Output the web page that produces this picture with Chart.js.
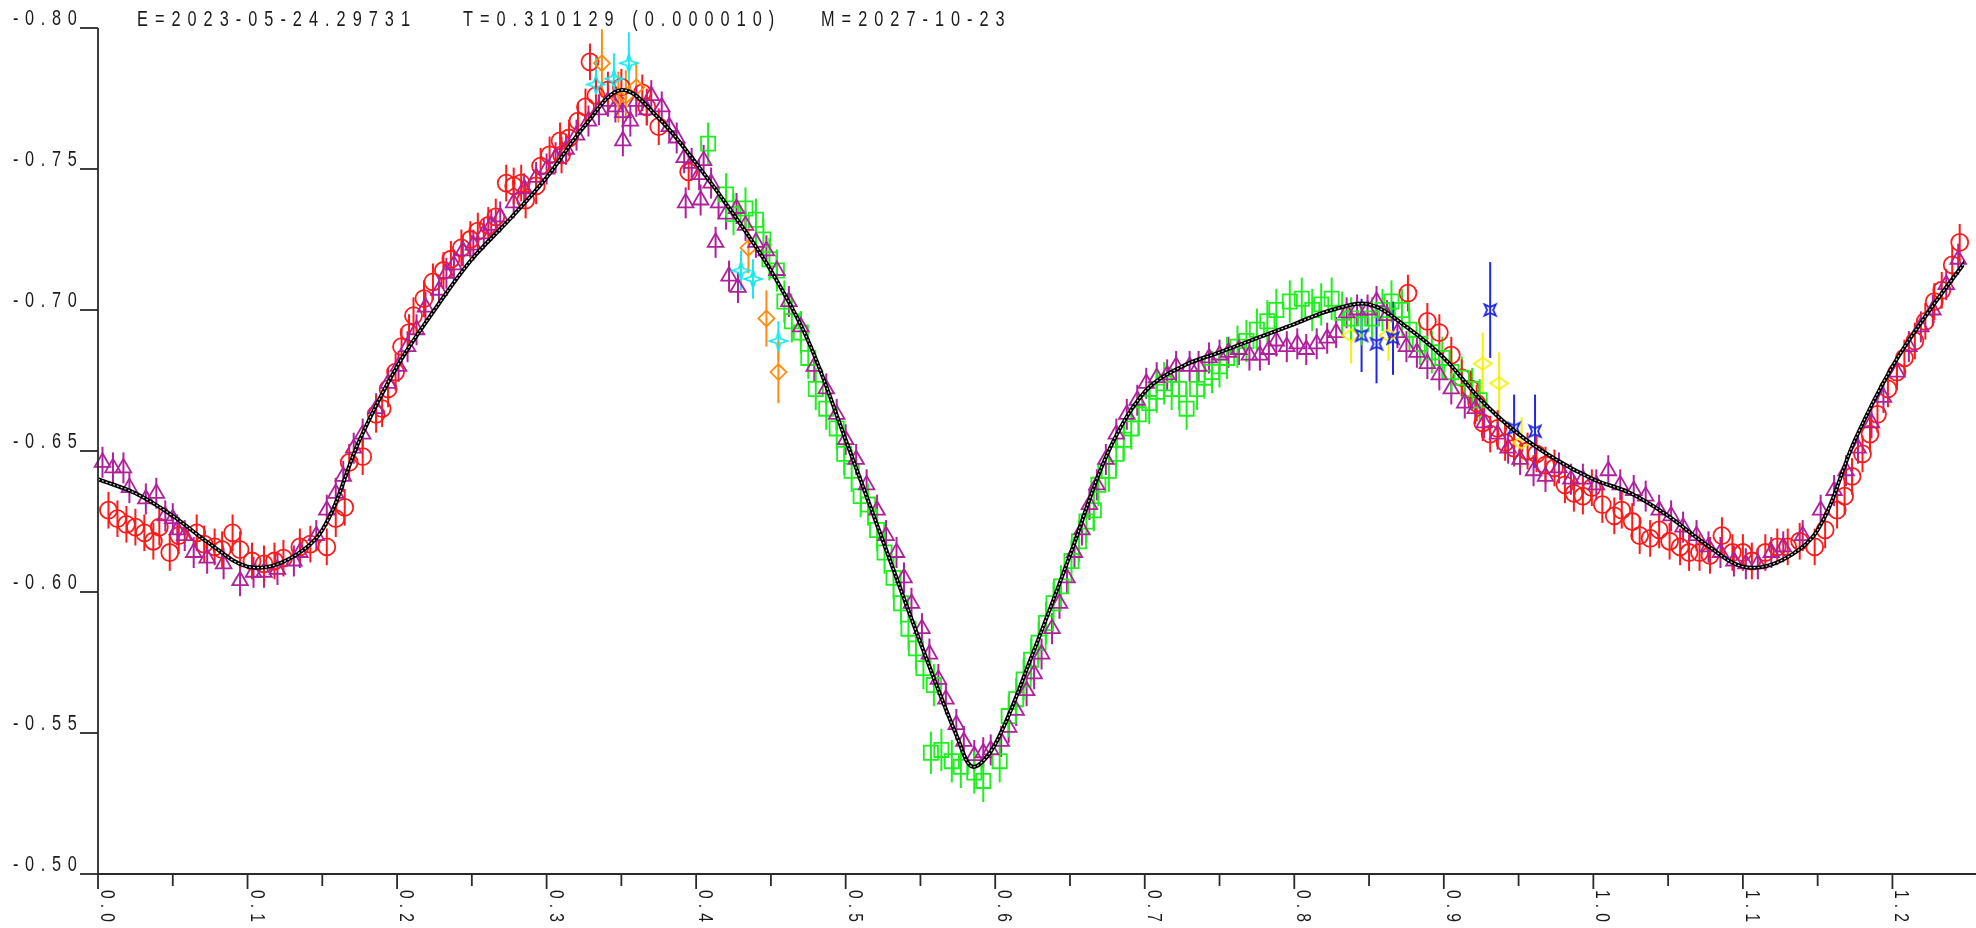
<!DOCTYPE html>
<html>
<head>
<meta charset="utf-8">
<script src="https://cdn.jsdelivr.net/npm/chart.js@4.4.1/dist/chart.umd.min.js"></script>
<style>
  html, body { margin: 0; padding: 0; background: #fff; }
  canvas { display: block; }
</style>
</head>
<body>
<canvas id="light-curve" width="1976" height="928" style="width:1976px;height:928px"></canvas>
<script>
// header
const headerE = 'E=2023-05-24.29731'
const headerT = 'T=0.310129 (0.000010)'
const headerM = 'M=2027-10-23'

// axis ticks
const yTicks = [-0.80, -0.75, -0.70, -0.65, -0.60, -0.55, -0.50]
const yTickLabels = ['-0.80', '-0.75', '-0.70', '-0.65', '-0.60', '-0.55', '-0.50']
const xTicks = [0.0, 0.1, 0.2, 0.3, 0.4, 0.5, 0.6, 0.7, 0.8, 0.9, 1.0, 1.1, 1.2]
const xTickLabels = ['0.0', '0.1', '0.2', '0.3', '0.4', '0.5', '0.6', '0.7', '0.8', '0.9', '1.0', '1.1', '1.2']
const xMinorTicks = [0.05, 0.15, 0.25, 0.35, 0.45, 0.55, 0.65, 0.75, 0.85, 0.95, 1.05, 1.15]

// fitted light curve
const fitPhase = [0.000, 0.025, 0.050, 0.075, 0.100, 0.125, 0.150, 0.175, 0.200, 0.225, 0.250, 0.275, 0.300, 0.325, 0.350, 0.375, 0.400, 0.425, 0.450, 0.475, 0.500, 0.525, 0.550, 0.575, 0.585, 0.600, 0.625, 0.650, 0.675, 0.700, 0.725, 0.750, 0.775, 0.800, 0.825, 0.850, 0.875, 0.900, 0.925, 0.950, 0.975, 1.000, 1.025, 1.050, 1.075, 1.100, 1.125, 1.150, 1.175, 1.200, 1.225, 1.250]
const fitMag = [-0.640, -0.635, -0.627, -0.617, -0.609, -0.611, -0.622, -0.654, -0.680, -0.700, -0.718, -0.732, -0.747, -0.765, -0.778, -0.768, -0.752, -0.734, -0.714, -0.689, -0.654, -0.618, -0.582, -0.548, -0.538, -0.546, -0.578, -0.613, -0.649, -0.671, -0.680, -0.685, -0.690, -0.695, -0.700, -0.702, -0.694, -0.683, -0.668, -0.656, -0.647, -0.640, -0.635, -0.627, -0.617, -0.609, -0.611, -0.622, -0.654, -0.680, -0.700, -0.718]

// red circles
const redPhase = [0.007, 0.013, 0.019, 0.025, 0.031, 0.037, 0.041, 0.048, 0.054, 0.066, 0.071, 0.078, 0.083, 0.090, 0.095, 0.103, 0.111, 0.118, 0.124, 0.135, 0.142, 0.153, 0.159, 0.165, 0.168,
  0.177, 0.186, 0.190, 0.194, 0.199, 0.203, 0.208, 0.211, 0.218, 0.224, 0.231, 0.236, 0.243, 0.249, 0.254, 0.261, 0.266, 0.273, 0.278, 0.283, 0.286, 0.293, 0.296, 0.302, 0.309, 0.310, 0.315, 0.321, 0.326, 0.329, 0.333, 0.341, 0.350, 0.364, 0.367, 0.375, 0.395,
  0.876, 0.889, 0.897, 0.905, 0.912, 0.918, 0.922, 0.926, 0.931, 0.936, 0.941, 0.947, 0.956, 0.962, 0.968, 0.974, 0.981, 0.987, 0.993, 0.999,
  1.006, 1.014, 1.019, 1.026, 1.031, 1.038, 1.044, 1.051, 1.058, 1.064, 1.071, 1.078, 1.086, 1.093, 1.100, 1.106, 1.115, 1.123, 1.130, 1.138, 1.148, 1.155, 1.163, 1.168, 1.173, 1.180, 1.185, 1.190, 1.197, 1.203, 1.208, 1.215, 1.222, 1.228, 1.233, 1.240, 1.245]
const redMag = [-0.629, -0.626, -0.624, -0.623, -0.621, -0.618, -0.623, -0.614, -0.620, -0.621, -0.617, -0.616, -0.615, -0.621, -0.615, -0.611, -0.610, -0.611, -0.612, -0.616, -0.617, -0.616, -0.626, -0.630, -0.646,
  -0.648, -0.663, -0.665, -0.672, -0.678, -0.687, -0.692, -0.698, -0.704, -0.710, -0.714, -0.718, -0.722, -0.725, -0.728, -0.730, -0.733, -0.745, -0.744, -0.745, -0.739, -0.744, -0.751, -0.755, -0.760, -0.755, -0.761, -0.767, -0.772, -0.788, -0.776, -0.778, -0.779, -0.777, -0.772, -0.765, -0.749,
  -0.706, -0.696, -0.692, -0.684, -0.676, -0.672, -0.667, -0.660, -0.656, -0.658, -0.653, -0.651, -0.650, -0.649, -0.645, -0.644, -0.638, -0.635, -0.634, -0.637,
  -0.631, -0.627, -0.629, -0.625, -0.620, -0.619, -0.622, -0.618, -0.616, -0.614, -0.614, -0.613, -0.620, -0.614, -0.614, -0.611, -0.614, -0.616, -0.616, -0.618, -0.616, -0.622, -0.629, -0.634, -0.641, -0.649, -0.656, -0.663, -0.672, -0.678, -0.683, -0.689, -0.696, -0.703, -0.707, -0.716, -0.724]
const redErr = 0.0065

// purple triangles
const purplePhase = [0.003, 0.010, 0.017, 0.021, 0.032, 0.039, 0.045, 0.050, 0.053, 0.058, 0.064, 0.073, 0.084, 0.095, 0.104, 0.111, 0.120, 0.131, 0.135, 0.146, 0.153, 0.159, 0.164, 0.171,
  0.177, 0.186, 0.194, 0.201, 0.207, 0.213, 0.219, 0.228, 0.233, 0.238, 0.244, 0.251, 0.258, 0.263, 0.269, 0.278, 0.285, 0.293, 0.300, 0.306, 0.313, 0.320, 0.328, 0.335, 0.341, 0.346, 0.351, 0.356, 0.360, 0.367, 0.370, 0.377, 0.382, 0.387, 0.392, 0.397, 0.402, 0.405, 0.410, 0.415, 0.420, 0.427, 0.433, 0.440, 0.447, 0.454,
  0.351, 0.393, 0.403, 0.413, 0.422, 0.428,
  0.462, 0.470, 0.479, 0.487, 0.494, 0.500, 0.507, 0.514, 0.521, 0.527, 0.534, 0.539, 0.544, 0.551, 0.556, 0.562, 0.567, 0.574, 0.579, 0.586, 0.592, 0.597, 0.604, 0.609, 0.614, 0.621, 0.626, 0.631, 0.638, 0.643, 0.648, 0.653, 0.658, 0.663, 0.668, 0.674, 0.681, 0.688, 0.695,
  0.701, 0.708, 0.715, 0.721, 0.730, 0.736, 0.743, 0.750, 0.756, 0.763, 0.770, 0.777, 0.783, 0.788, 0.795, 0.802, 0.808, 0.815, 0.822, 0.828, 0.835, 0.842, 0.849, 0.855, 0.862, 0.869, 0.875, 0.882, 0.889, 0.897, 0.905, 0.914, 0.921, 0.927, 0.936, 0.943, 0.951, 0.960, 0.968, 0.977, 0.985, 0.993,
  1.002, 1.010, 1.018, 1.027, 1.035, 1.044, 1.052, 1.060, 1.069, 1.077, 1.085, 1.094, 1.102, 1.110, 1.119, 1.127, 1.140, 1.152, 1.161, 1.169, 1.177, 1.186, 1.194, 1.203, 1.211, 1.219, 1.227, 1.236, 1.244]
const purpleMag = [-0.646, -0.644, -0.644, -0.637, -0.633, -0.635, -0.627, -0.626, -0.622, -0.620, -0.614, -0.612, -0.610, -0.604, -0.607, -0.607, -0.608, -0.611, -0.614, -0.620, -0.629, -0.635, -0.641, -0.651,
  -0.656, -0.665, -0.674, -0.680, -0.687, -0.693, -0.701, -0.707, -0.713, -0.716, -0.721, -0.723, -0.727, -0.730, -0.733, -0.738, -0.743, -0.747, -0.750, -0.754, -0.757, -0.762, -0.767, -0.771, -0.774, -0.772, -0.770, -0.767, -0.774, -0.771, -0.776, -0.772, -0.765, -0.761, -0.754, -0.752, -0.748, -0.753, -0.745, -0.738, -0.734, -0.736, -0.730, -0.724, -0.721, -0.714,
  -0.760, -0.738, -0.739, -0.724, -0.712, -0.708,
  -0.703, -0.694, -0.680, -0.672, -0.663, -0.654, -0.647, -0.638, -0.629, -0.620, -0.614, -0.605, -0.596, -0.587, -0.578, -0.569, -0.562, -0.553, -0.547, -0.542, -0.543, -0.544, -0.547, -0.552, -0.558, -0.565, -0.571, -0.578, -0.587, -0.596, -0.605, -0.614, -0.622, -0.631, -0.638, -0.647, -0.656, -0.663, -0.668,
  -0.674, -0.676, -0.677, -0.680, -0.680, -0.680, -0.683, -0.684, -0.685, -0.686, -0.684, -0.684, -0.686, -0.689, -0.687, -0.688, -0.686, -0.688, -0.690, -0.692, -0.699, -0.700, -0.700, -0.703, -0.698, -0.692, -0.687, -0.685, -0.681, -0.677, -0.672, -0.667, -0.665, -0.660, -0.656, -0.651, -0.647, -0.643, -0.641, -0.644, -0.640, -0.640,
  -0.638, -0.643, -0.638, -0.636, -0.634, -0.629, -0.627, -0.623, -0.620, -0.616, -0.614, -0.611, -0.610, -0.610, -0.614, -0.616, -0.620, -0.629, -0.636, -0.643, -0.651, -0.660, -0.669, -0.678, -0.687, -0.694, -0.700, -0.709, -0.718]
const purpleErr = 0.0055

// green squares
const greenPhase = [0.408, 0.420, 0.425, 0.433, 0.440, 0.445, 0.449, 0.454, 0.459, 0.464, 0.470, 0.475, 0.480, 0.487, 0.494, 0.499, 0.504, 0.510, 0.515, 0.521, 0.526, 0.532, 0.537, 0.542, 0.547, 0.552, 0.557, 0.559, 0.564, 0.571, 0.577, 0.586, 0.592, 0.603,
  0.609, 0.614, 0.619, 0.624, 0.629, 0.634, 0.639, 0.644, 0.651, 0.656, 0.661, 0.666, 0.669, 0.676, 0.681, 0.686, 0.691, 0.696, 0.703, 0.708, 0.713, 0.718, 0.723, 0.728, 0.735, 0.740, 0.745, 0.750, 0.755, 0.762, 0.768, 0.775, 0.782, 0.788, 0.797, 0.805, 0.812, 0.818, 0.825, 0.832, 0.838, 0.845, 0.852, 0.859, 0.865, 0.872, 0.877, 0.884, 0.892, 0.899, 0.905, 0.912, 0.919, 0.924]
const greenMag = [-0.759, -0.741, -0.734, -0.736, -0.732, -0.725, -0.718, -0.714, -0.703, -0.696, -0.692, -0.683, -0.672, -0.665, -0.658, -0.649, -0.643, -0.634, -0.631, -0.622, -0.614, -0.605, -0.596, -0.587, -0.580, -0.573, -0.543, -0.567, -0.544, -0.540, -0.538, -0.536, -0.533, -0.540,
  -0.556, -0.562, -0.569, -0.576, -0.582, -0.589, -0.596, -0.602, -0.611, -0.618, -0.625, -0.629, -0.638, -0.643, -0.649, -0.654, -0.658, -0.663, -0.667, -0.671, -0.674, -0.672, -0.672, -0.665, -0.672, -0.676, -0.678, -0.680, -0.683, -0.687, -0.689, -0.693, -0.696, -0.700, -0.703, -0.704, -0.700, -0.702, -0.704, -0.699, -0.697, -0.695, -0.697, -0.700, -0.703, -0.700, -0.693, -0.688, -0.685, -0.683, -0.678, -0.676, -0.672, -0.668]
const greenErr = 0.0075

// orange diamonds
const orangePhase = [0.337, 0.348, 0.353, 0.360, 0.435, 0.447, 0.455]
const orangeMag = [-0.7875, -0.7755, -0.776, -0.779, -0.722, -0.697, -0.678]
const orangeErr = [0.012, 0.009, 0.009, 0.009, 0.009, 0.010, 0.011]

// cyan stars
const cyanPhase = [0.333, 0.345, 0.355, 0.430, 0.438, 0.455]
const cyanMag = [-0.780, -0.782, -0.7875, -0.714, -0.711, -0.689]
const cyanErr = [0.010, 0.009, 0.011, 0.007, 0.007, 0.007]

// yellow diamonds
const yellowPhase = [0.838, 0.863, 0.926, 0.937, 0.952]
const yellowMag = [-0.691, -0.691, -0.681, -0.674, -0.653]
const yellowErr = [0.010, 0.009, 0.011, 0.011, 0.009]

// blue stars
const bluePhase = [0.845, 0.855, 0.866, 0.931, 0.947, 0.961]
const blueMag = [-0.691, -0.688, -0.690, -0.700, -0.658, -0.657]
const blueErr = [0.013, 0.014, 0.013, 0.017, 0.012, 0.013]

const toPoints = (xs, ys) => xs.map((x, i) => ({ x: x, y: ys[i] }))

// small hollow glyphs for the marker styles Chart.js lacks
function starGlyph(color, outer, inner, turn) {
  const c = document.createElement('canvas')
  const s = Math.ceil(outer * 2 + 4)
  c.width = s
  c.height = s
  const g = c.getContext('2d')
  g.strokeStyle = color
  g.lineWidth = 1.8
  g.translate(s / 2, s / 2)
  g.rotate(turn)
  g.beginPath()
  for (let i = 0; i < 8; i++) {
    const a = (i * Math.PI) / 4 - Math.PI / 2
    const r = i % 2 ? inner : outer
    if (i === 0) g.moveTo(Math.cos(a) * r, Math.sin(a) * r)
    else g.lineTo(Math.cos(a) * r, Math.sin(a) * r)
  }
  g.closePath()
  g.stroke()
  return c
}

function wideDiamond(color, w, h) {
  const c = document.createElement('canvas')
  c.width = w + 4
  c.height = h + 4
  const g = c.getContext('2d')
  g.strokeStyle = color
  g.lineWidth = 1.8
  g.beginPath()
  g.moveTo(c.width / 2, 2)
  g.lineTo(c.width - 2, c.height / 2)
  g.lineTo(c.width / 2, c.height - 2)
  g.lineTo(2, c.height / 2)
  g.closePath()
  g.stroke()
  return c
}

const RED = '#ff1a1a'
const PURPLE = '#b0209c'
const GREEN = '#1ef01e'
const ORANGE = '#ff8c10'
const CYAN = '#18e8f0'
const YELLOW = '#f4f000'
const BLUE = '#1e28e6'

function markerSet(label, xs, ys, errs, color, style, radius) {
  return {
    label: label,
    data: toPoints(xs, ys),
    errs: errs,
    showLine: false,
    pointStyle: style,
    pointRadius: radius,
    pointBorderWidth: 1.8,
    borderColor: color,
    backgroundColor: 'rgba(0,0,0,0)',
    clip: false,
  }
}

// narrow, widely spaced lettering like the original plot
function narrowText(ctx, text, x, y, size, spacing, rot) {
  ctx.save()
  ctx.translate(x, y)
  if (rot) ctx.rotate(rot)
  ctx.scale(0.74, 1)
  ctx.font = size + 'px "Liberation Sans", Arial, sans-serif'
  ctx.letterSpacing = spacing + 'px'
  ctx.fillStyle = '#1a1a1a'
  ctx.textAlign = 'left'
  ctx.textBaseline = 'alphabetic'
  ctx.fillText(text, 0, 0)
  ctx.restore()
}

const errorBars = {
  id: 'errorBars',
  beforeDatasetsDraw(chart) {
    const ctx = chart.ctx
    const ys = chart.scales.y
    chart.data.datasets.forEach((ds, di) => {
      if (ds.errs === undefined) return
      const meta = chart.getDatasetMeta(di)
      ctx.save()
      ctx.strokeStyle = ds.borderColor
      ctx.lineWidth = 2
      meta.data.forEach((pt, i) => {
        const e = Array.isArray(ds.errs) ? ds.errs[i] : ds.errs
        const v = ds.data[i].y
        ctx.beginPath()
        ctx.moveTo(pt.x, ys.getPixelForValue(v - e))
        ctx.lineTo(pt.x, ys.getPixelForValue(v + e))
        ctx.stroke()
      })
      ctx.restore()
    })
  },
}

const frame = {
  id: 'frame',
  afterDraw(chart) {
    const ctx = chart.ctx
    const xs = chart.scales.x
    const ys = chart.scales.y
    const area = chart.chartArea
    ctx.save()
    ctx.strokeStyle = '#2a2a2a'
    ctx.lineWidth = 1.8
    // axes
    ctx.beginPath()
    ctx.moveTo(area.left, ys.getPixelForValue(yTicks[0]))
    ctx.lineTo(area.left, area.bottom)
    ctx.lineTo(chart.width, area.bottom)
    ctx.stroke()
    // y ticks and labels
    yTicks.forEach((v, i) => {
      const py = ys.getPixelForValue(v)
      ctx.beginPath()
      ctx.moveTo(area.left - 18, py)
      ctx.lineTo(area.left, py)
      ctx.stroke()
      narrowText(ctx, yTickLabels[i], 13, py - 3, 22, 9)
    })
    // x ticks and rotated labels
    xTicks.forEach((v, i) => {
      const px = xs.getPixelForValue(v)
      ctx.beginPath()
      ctx.moveTo(px, area.bottom)
      ctx.lineTo(px, area.bottom + 15)
      ctx.stroke()
      narrowText(ctx, xTickLabels[i], px + 3, area.bottom + 16, 21, 7, Math.PI / 2)
    })
    xMinorTicks.forEach(v => {
      const px = xs.getPixelForValue(v)
      ctx.beginPath()
      ctx.moveTo(px, area.bottom)
      ctx.lineTo(px, area.bottom + 12)
      ctx.stroke()
    })
    ctx.restore()
    // header line
    narrowText(ctx, headerE, 137, 26, 22, 9.5)
    narrowText(ctx, headerT, 463, 26, 22, 9.5)
    narrowText(ctx, headerM, 821, 26, 22, 9.5)
  },
}

const ctxLightCurve = document.getElementById('light-curve').getContext('2d')

const dataLightCurve = {
  datasets: [
    {
      label: 'fit core',
      data: toPoints(fitPhase, fitMag),
      showLine: true,
      borderColor: '#dcdcdc',
      borderWidth: 1.2,
      borderDash: [2, 2],
      pointRadius: 0,
      tension: 0.35,
    },
    {
      label: 'fit',
      data: toPoints(fitPhase, fitMag),
      showLine: true,
      borderColor: '#000',
      borderWidth: 4,
      pointRadius: 0,
      tension: 0.35,
    },
    markerSet('blue', bluePhase, blueMag, blueErr, BLUE, starGlyph(BLUE, 8, 3, Math.PI / 4), 7),
    markerSet('yellow', yellowPhase, yellowMag, yellowErr, YELLOW, wideDiamond(YELLOW, 18, 12), 8),
    markerSet('cyan', cyanPhase, cyanMag, cyanErr, CYAN, starGlyph(CYAN, 9, 3.2, 0), 8),
    markerSet('orange', orangePhase, orangeMag, orangeErr, ORANGE, 'rectRot', 8),
    markerSet('purple', purplePhase, purpleMag, purpleErr, PURPLE, 'triangle', 9),
    markerSet('green', greenPhase, greenMag, greenErr, GREEN, 'rect', 10),
    markerSet('red', redPhase, redMag, redErr, RED, 'circle', 8.5),
  ],
}

const configLightCurve = {
  type: 'scatter',
  data: dataLightCurve,
  options: {
    responsive: false,
    animation: false,
    events: [],
    layout: { padding: { left: 98, top: 28, right: 0, bottom: 54 } },
    plugins: {
      legend: { display: false },
      title: { display: false },
      tooltip: { enabled: false },
    },
    scales: {
      x: { type: 'linear', min: 0, max: 1.248, display: false },
      y: { type: 'linear', min: -0.80, max: -0.50, reverse: true, display: false },
    },
  },
  plugins: [errorBars, frame],
}

const lightCurveChart = new Chart(ctxLightCurve, configLightCurve)
</script>
</body>
</html>
